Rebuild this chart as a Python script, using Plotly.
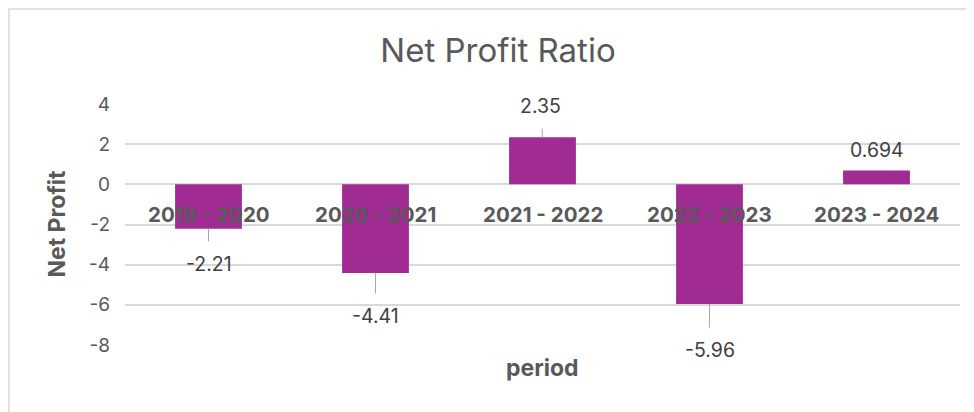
import plotly.graph_objects as go

periods = ["2019 - 2020", "2020 - 2021", "2021 - 2022", "2022 - 2023", "2023 - 2024"]
net_profit = [-2.21, -4.41, 2.35, -5.96, 0.694]
value_labels = ["-2.21", "-4.41", "2.35", "-5.96", "0.694"]
y_ticks = [4, 2, 0, -2, -4, -6, -8]
y_tick_text = ["4", "2", "0", "-2", "-4", "-6", "-8"]

BAR = "#A02B93"
TXT = "#595959"
LBL = "#404040"
FONT = "Inter, Liberation Sans, Arial, sans-serif"

fig = go.Figure()
fig.add_trace(go.Bar(x=periods, y=net_profit, marker=dict(color=BAR, line=dict(width=0)),
                     width=0.4, hoverinfo="skip"))

# label offsets (pixels) for data labels
label_offsets = [35, 43, -31, 46, -20]
ann = []
for p, v, t, off in zip(periods, net_profit, value_labels, label_offsets):
    if abs(v) > 1:
        ann.append(dict(x=p, y=v, xref="x", yref="y", text=t, showarrow=True,
                        ax=0 if v < 0 else -2, ay=off, arrowhead=0, arrowwidth=1,
                        arrowcolor="#A6A6A6", startstandoff=9, standoff=0,
                        font=dict(family=FONT, size=19.5, color=LBL)))
    else:
        ann.append(dict(x=p, y=v, xref="x", yref="y", text=t, showarrow=False,
                        yshift=-off, font=dict(family=FONT, size=19.5, color=LBL)))
    # category labels near zero line
    ann.append(dict(x=p, y=0, xref="x", yref="y", text="<b>%s</b>" % p, showarrow=False,
                    yshift=-30, font=dict(family=FONT, size=20.5, color=TXT)))

ann.append(dict(x=0.5, y=0, xref="paper", yref="paper", text="<b>period</b>", showarrow=False,
                yshift=-23, yanchor="middle", font=dict(family=FONT, size=23, color=TXT)))
ann.append(dict(x=0, y=0.5, xref="paper", yref="paper", text="<b>Net Profit</b>", showarrow=False,
                xshift=-69, textangle=-90, xanchor="center", yanchor="middle",
                font=dict(family=FONT, size=23, color=TXT)))

fig.update_layout(
    width=974, height=412,
    margin=dict(l=117, r=22, t=96, b=75),
    paper_bgcolor="white", plot_bgcolor="white",
    showlegend=False,
    title=dict(text="Net Profit Ratio", x=490 / 974, xanchor="center", y=1 - 42 / 412,
               yanchor="middle", font=dict(family=FONT, size=33, color=TXT)),
    xaxis=dict(showticklabels=False, showgrid=False, zeroline=False, showline=False),
    yaxis=dict(range=[-8, 4], tickvals=y_ticks, ticktext=y_tick_text, showgrid=True,
               gridcolor="#D9D9D9", gridwidth=1.5,
               zeroline=False, showline=False, ticklabelstandoff=14,
               tickfont=dict(family=FONT, size=19, color=TXT)),
    annotations=ann,
    shapes=[dict(type="rect", xref="paper", yref="paper", x0=-116 / 835, x1=1.2, y0=-0.6,
                 y1=1 + 95 / 241,
                 line=dict(color="#D9D9D9", width=1.5), fillcolor="rgba(0,0,0,0)", layer="below")],
)
fig.update_traces(cliponaxis=False)

fig.write_html("out.html")
